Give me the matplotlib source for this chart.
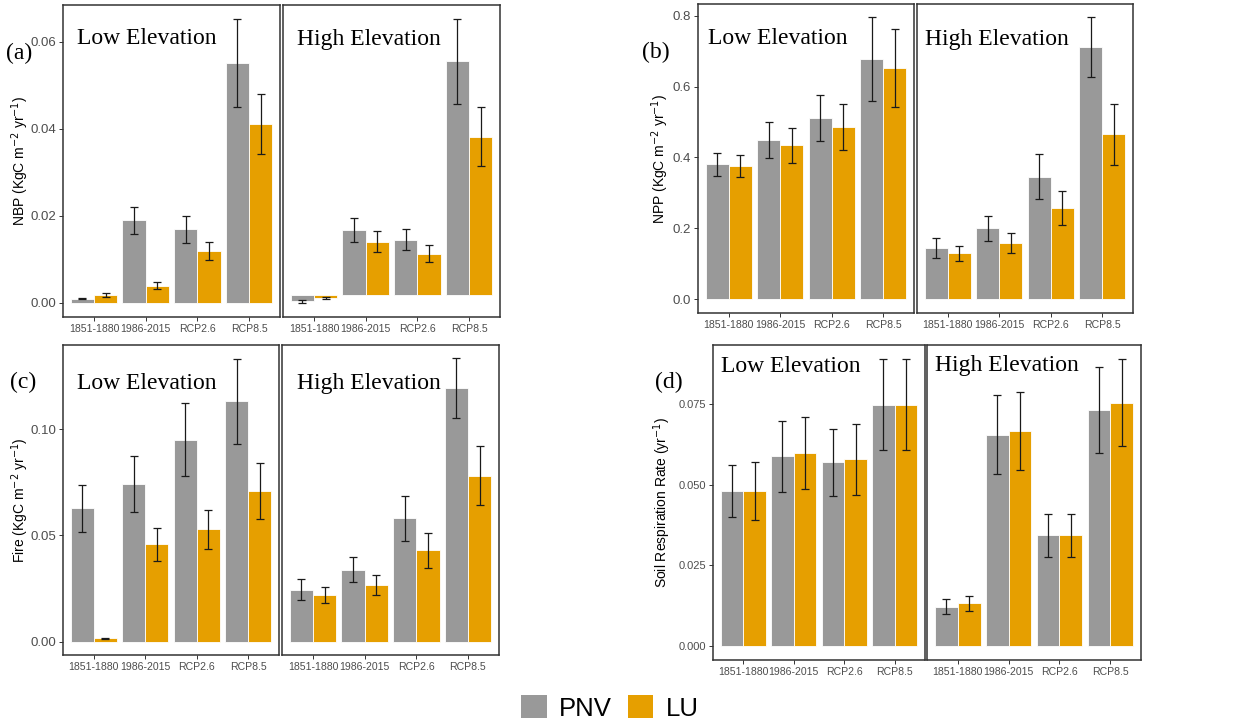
import numpy as np
import matplotlib
matplotlib.use("Agg")
import matplotlib.pyplot as plt
from matplotlib.patches import Patch

plt.rcParams['font.family'] = ['Liberation Sans', 'DejaVu Sans']

periods = ["1851-1880", "1986-2015", "RCP2.6", "RCP8.5"]

# (a) NBP
nbp_low_pnv = [0.0009, 0.0190, 0.0169, 0.0552]
nbp_low_pnv_err = [0.0001, 0.0031, 0.0031, 0.0101]
nbp_low_lu = [0.0018, 0.0039, 0.0119, 0.0411]
nbp_low_lu_err = [0.0004, 0.0008, 0.0020, 0.0070]
nbp_high_pnv = [0.0003, 0.0167, 0.0145, 0.0555]
nbp_high_pnv_err = [0.0004, 0.0028, 0.0024, 0.0098]
nbp_high_lu = [0.0010, 0.0140, 0.0113, 0.0382]
nbp_high_lu_err = [0.0002, 0.0024, 0.0019, 0.0068]
nbp_high_baseline = 0.0017

# (b) NPP
npp_low_pnv = [0.381, 0.449, 0.510, 0.677]
npp_low_pnv_err = [0.032, 0.050, 0.065, 0.118]
npp_low_lu = [0.377, 0.434, 0.486, 0.652]
npp_low_lu_err = [0.031, 0.050, 0.064, 0.110]
npp_high_pnv = [0.144, 0.200, 0.346, 0.711]
npp_high_pnv_err = [0.028, 0.035, 0.063, 0.084]
npp_high_lu = [0.129, 0.158, 0.257, 0.465]
npp_high_lu_err = [0.021, 0.029, 0.049, 0.085]

# (c) Fire
fire_low_pnv = [0.0628, 0.0741, 0.0951, 0.1132]
fire_low_pnv_err = [0.0112, 0.0131, 0.0171, 0.0201]
fire_low_lu = [0.0016, 0.0458, 0.0529, 0.0711]
fire_low_lu_err = [0.0002, 0.0079, 0.0092, 0.0132]
fire_high_pnv = [0.0245, 0.0338, 0.0581, 0.1193]
fire_high_pnv_err = [0.0048, 0.0059, 0.0107, 0.0141]
fire_high_lu = [0.0220, 0.0267, 0.0430, 0.0782]
fire_high_lu_err = [0.0036, 0.0047, 0.0083, 0.0140]

# (d) soil respiration
soil_low_pnv = [0.0480, 0.0589, 0.0570, 0.0749]
soil_low_pnv_err = [0.0080, 0.0110, 0.0104, 0.0140]
soil_low_lu = [0.0480, 0.0599, 0.0579, 0.0749]
soil_low_lu_err = [0.0090, 0.0111, 0.0110, 0.0140]
soil_high_pnv = [0.0121, 0.0655, 0.0343, 0.0733]
soil_high_pnv_err = [0.0023, 0.0123, 0.0066, 0.0134]
soil_high_lu = [0.0132, 0.0667, 0.0343, 0.0755]
soil_high_lu_err = [0.0023, 0.0122, 0.0066, 0.0134]

GREY = '#999999'
ORANGE = '#E69F00'
W, H = 1248, 725

fig = plt.figure(figsize=(W / 100, H / 100), dpi=100)


def px_axes(x0, y0, x1, y1):
    return fig.add_axes([x0 / W, 1 - y1 / H, (x1 - x0) / W, (y1 - y0) / H])


def facet(ax, pnv, pnv_err, lu, lu_err, title, ylim, yticks, fmt, dx, dy,
          base=0.0, show_y=True, ytick_size=9):
    x = np.arange(1, len(periods) + 1)
    ax.bar(x - 0.225, np.array(pnv) - base, 0.45, bottom=base, color=GREY,
           edgecolor='white', linewidth=0.6, zorder=2)
    ax.bar(x + 0.225, np.array(lu) - base, 0.45, bottom=base, color=ORANGE,
           edgecolor='white', linewidth=0.6, zorder=2)
    for xs, v, e in [(x - 0.225, pnv, pnv_err), (x + 0.225, lu, lu_err)]:
        ax.errorbar(xs, v, yerr=e, fmt='none', ecolor='#1a1a1a', elinewidth=0.9,
                    capsize=2.6, capthick=0.9, zorder=3)
    ax.set_xlim(0.4, 4.6)
    ax.set_ylim(*ylim)
    ax.set_xticks(x)
    ax.set_xticklabels(periods)
    ax.set_yticks(yticks)
    ax.set_yticklabels([fmt.format(t) for t in yticks])
    ax.tick_params(axis='x', labelsize=7.6, colors='#333333', labelcolor='#4D4D4D',
                   length=3, width=0.7, pad=2)
    ax.tick_params(axis='y', labelsize=ytick_size, colors='#333333', labelcolor='#4D4D4D',
                   length=3, width=0.7, pad=2)
    if not show_y:
        ax.tick_params(axis='y', left=False, labelleft=False)
    for s in ax.spines.values():
        s.set_color('#333333')
        s.set_linewidth(1.1)
    ax.annotate(title, xy=(0, 1), xycoords='axes fraction', xytext=(dx, -dy),
                textcoords='offset pixels', ha='left', va='center', fontsize=17,
                family='Liberation Serif')


def panel(boxes, data, ylabel, ylim, yticks, fmt, label, label_xy, ylab_x,
          dxs=(14, 14), title_dy=34, ytick_size=9.5, high_base=0.0):
    (l0, l1, r0, r1, y0, y1) = boxes
    axl = px_axes(l0, y0, l1, y1)
    axr = px_axes(r0, y0, r1, y1)
    facet(axl, *data[0], "Low Elevation", ylim, yticks, fmt, dxs[0], title_dy,
          ytick_size=ytick_size)
    facet(axr, *data[1], "High Elevation", ylim, yticks, fmt, dxs[1], title_dy,
          base=high_base, show_y=False, ytick_size=ytick_size)
    axl.set_ylabel(ylabel, fontsize=10)
    axl.yaxis.set_label_coords((ylab_x - l0) / (l1 - l0), 0.5)
    fig.text(label_xy[0] / W, 1 - label_xy[1] / H, label, ha='center', va='center',
             fontsize=17, family='Liberation Serif')
    return axl, axr


unit = r'(KgC m$^{-2}$ yr$^{-1}$)'

panel((63, 280, 283, 500, 5, 317),
      [(nbp_low_pnv, nbp_low_pnv_err, nbp_low_lu, nbp_low_lu_err),
       (nbp_high_pnv, nbp_high_pnv_err, nbp_high_lu, nbp_high_lu_err)],
      'NBP ' + unit, (-0.0033, 0.0685), [0.0, 0.02, 0.04, 0.06], '{:.2f}',
      '(a)', (19, 53), 31, title_dy=34, high_base=nbp_high_baseline)

panel((698, 914, 917, 1133, 4, 313),
      [(npp_low_pnv, npp_low_pnv_err, npp_low_lu, npp_low_lu_err),
       (npp_high_pnv, npp_high_pnv_err, npp_high_lu, npp_high_lu_err)],
      'NPP ' + unit, (-0.039, 0.833), [0.0, 0.2, 0.4, 0.6, 0.8], '{:.1f}',
      '(b)', (656, 52), 671, dxs=(10, 8), title_dy=35)

panel((63, 279, 282, 499, 345, 655),
      [(fire_low_pnv, fire_low_pnv_err, fire_low_lu, fire_low_lu_err),
       (fire_high_pnv, fire_high_pnv_err, fire_high_lu, fire_high_lu_err)],
      'Fire ' + unit, (-0.0063, 0.1397), [0.0, 0.05, 0.10], '{:.2f}',
      '(c)', (23, 382), 31, dxs=(14, 15), title_dy=38)

panel((713, 925, 927, 1141, 345, 660),
      [(soil_low_pnv, soil_low_pnv_err, soil_low_lu, soil_low_lu_err),
       (soil_high_pnv, soil_high_pnv_err, soil_high_lu, soil_high_lu_err)],
      r'Soil Respiration Rate (yr$^{-1}$)', (-0.0044, 0.0934),
      [0.0, 0.025, 0.05, 0.075], '{:.3f}',
      '(d)', (669, 382), 673, dxs=(8, 8), title_dy=21, ytick_size=8)

handles = [Patch(facecolor=GREY, label='PNV'), Patch(facecolor=ORANGE, label='LU')]
fig.legend(handles=handles, loc='center', bbox_to_anchor=(610 / W, 1 - 708 / H),
           ncol=2, frameon=False, fontsize=18.5, handlelength=1.0, handleheight=1.0,
           handletextpad=0.5, columnspacing=0.6)

fig.savefig('out.png', dpi=100)
